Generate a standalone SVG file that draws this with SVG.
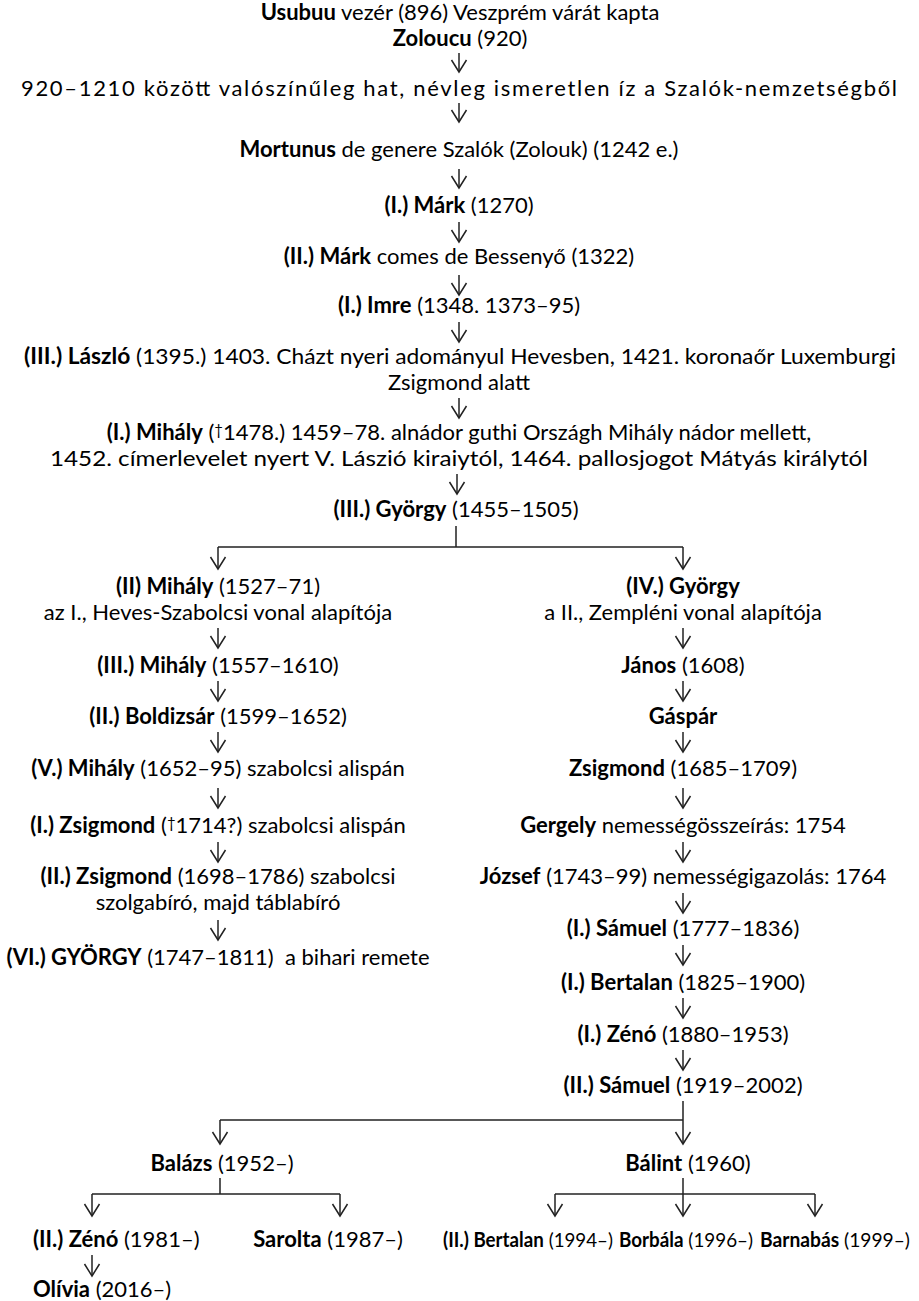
<svg xmlns="http://www.w3.org/2000/svg" width="919" height="1301" viewBox="0 0 919 1301">
<defs>
<style>
text{font-family:Lato,"Open Sans","Liberation Sans",sans-serif;font-size:22px;fill:#000;text-anchor:middle}
.b{font-weight:bold}
.l{text-anchor:start}
.dg{font-size:15px}
.sm{font-size:20px}
#connectors path,#connectors line{stroke:#222;stroke-width:1.5;fill:none}
</style>
<marker id="ah" markerUnits="userSpaceOnUse" markerWidth="24" markerHeight="24" viewBox="-12 -12 24 24" refX="0" refY="0" orient="auto" overflow="visible">
<path d="M-12,-7.5 L0,0 L-12,7.5" fill="none" stroke="#222" stroke-width="1.5"/>
</marker>
</defs>
<rect width="919" height="1301" fill="#fff"/>

<g id="connectors">
<line x1="459" y1="53" x2="459" y2="72" marker-end="url(#ah)"/>
<line x1="459" y1="103" x2="459" y2="122" marker-end="url(#ah)"/>
<line x1="459" y1="169" x2="459" y2="188" marker-end="url(#ah)"/>
<line x1="459" y1="222" x2="459" y2="242" marker-end="url(#ah)"/>
<line x1="459" y1="275" x2="459" y2="295" marker-end="url(#ah)"/>
<line x1="459" y1="322" x2="459" y2="342" marker-end="url(#ah)"/>
<line x1="459" y1="398" x2="459" y2="418" marker-end="url(#ah)"/>
<line x1="457" y1="474" x2="457" y2="494" marker-end="url(#ah)"/>
<path d="M456,526 V547 M218,547 H683"/>
<line x1="218" y1="547" x2="218" y2="569" marker-end="url(#ah)"/>
<line x1="683" y1="547" x2="683" y2="569" marker-end="url(#ah)"/>
<line x1="218" y1="628" x2="218" y2="648" marker-end="url(#ah)"/>
<line x1="218" y1="681" x2="218" y2="701" marker-end="url(#ah)"/>
<line x1="218" y1="732" x2="218" y2="752" marker-end="url(#ah)"/>
<line x1="218" y1="788" x2="218" y2="808" marker-end="url(#ah)"/>
<line x1="218" y1="842" x2="218" y2="862" marker-end="url(#ah)"/>
<line x1="218" y1="920" x2="218" y2="940" marker-end="url(#ah)"/>
<line x1="683" y1="628" x2="683" y2="648" marker-end="url(#ah)"/>
<line x1="683" y1="681" x2="683" y2="701" marker-end="url(#ah)"/>
<line x1="683" y1="732" x2="683" y2="752" marker-end="url(#ah)"/>
<line x1="683" y1="788" x2="683" y2="808" marker-end="url(#ah)"/>
<line x1="683" y1="842" x2="683" y2="862" marker-end="url(#ah)"/>
<line x1="683" y1="893" x2="683" y2="913" marker-end="url(#ah)"/>
<line x1="683" y1="945" x2="683" y2="965" marker-end="url(#ah)"/>
<line x1="683" y1="998" x2="683" y2="1018" marker-end="url(#ah)"/>
<line x1="683" y1="1050" x2="683" y2="1070" marker-end="url(#ah)"/>
<path d="M683,1101 V1120 M220,1120 H683"/>
<line x1="220" y1="1120" x2="220" y2="1144" marker-end="url(#ah)"/>
<line x1="683" y1="1120" x2="683" y2="1144" marker-end="url(#ah)"/>
<path d="M220,1178 V1194 M92,1194 H340"/>
<line x1="92" y1="1194" x2="92" y2="1216" marker-end="url(#ah)"/>
<line x1="340" y1="1194" x2="340" y2="1216" marker-end="url(#ah)"/>
<path d="M555,1194 H815"/>
<line x1="683" y1="1178" x2="683" y2="1216" marker-end="url(#ah)"/>
<line x1="555" y1="1194" x2="555" y2="1216" marker-end="url(#ah)"/>
<line x1="815" y1="1194" x2="815" y2="1216" marker-end="url(#ah)"/>
<line x1="92" y1="1255" x2="92" y2="1276" marker-end="url(#ah)"/>
</g>

<g id="n-usubuu"><text x="460" y="20"><tspan class="b">Usubuu</tspan> vezér (896) Veszprém várát kapta</text></g>
<g id="n-zoloucu"><text x="460" y="46"><tspan class="b">Zoloucu</tspan> (920)</text></g>
<g id="n-920"><text x="459" y="96" textLength="876" lengthAdjust="spacing">920–1210 között valószínűleg hat, névleg ismeretlen íz a Szalók-nemzetségből</text></g>
<g id="n-mortunus"><text x="459" y="157"><tspan class="b">Mortunus</tspan> de genere Szalók (Zolouk) (1242 e.)</text></g>
<g id="n-mark1"><text x="459" y="213"><tspan class="b">(I.) Márk</tspan> (1270)</text></g>
<g id="n-mark2"><text x="459" y="264"><tspan class="b">(II.) Márk</tspan> comes de Bessenyő (1322)</text></g>
<g id="n-imre"><text x="459" y="313"><tspan class="b">(I.) Imre</tspan> (1348. 1373–95)</text></g>
<g id="n-laszlo"><text x="460" y="364" textLength="872" lengthAdjust="spacingAndGlyphs"><tspan class="b">(III.) László</tspan> (1395.) 1403. Cházt nyeri adományul Hevesben, 1421. koronaőr Luxemburgi</text><text x="459" y="390">Zsigmond alatt</text></g>
<g id="n-mihaly1"><text x="459" y="440"><tspan class="b">(I.) Mihály</tspan> (<tspan class="dg" baseline-shift="5">†</tspan>1478.) 1459–78. alnádor guthi Országh Mihály nádor mellett,</text><text x="459" y="466" textLength="818" lengthAdjust="spacingAndGlyphs">1452. címerlevelet nyert V. Lászió kiraiytól, 1464. pallosjogot Mátyás királytól</text></g>
<g id="n-gyorgy3"><text x="456" y="517"><tspan class="b">(III.) György</tspan> (1455–1505)</text></g>

<g id="n-mihaly2"><text x="218" y="594"><tspan class="b">(II) Mihály</tspan> (1527–71)</text><text x="218" y="620">az I., Heves-Szabolcsi vonal alapítója</text></g>
<g id="n-mihaly3"><text x="218" y="673"><tspan class="b">(III.) Mihály</tspan> (1557–1610)</text></g>
<g id="n-boldizsar"><text x="218" y="724"><tspan class="b">(II.) Boldizsár</tspan> (1599–1652)</text></g>
<g id="n-mihaly5"><text x="218" y="776"><tspan class="b">(V.) Mihály</tspan> (1652–95) szabolcsi alispán</text></g>
<g id="n-zsigmond1"><text x="218" y="833"><tspan class="b">(I.) Zsigmond</tspan> (<tspan class="dg" baseline-shift="5">†</tspan>1714?) szabolcsi alispán</text></g>
<g id="n-zsigmond2"><text x="218" y="884"><tspan class="b">(II.) Zsigmond</tspan> (1698–1786) szabolcsi</text><text x="218" y="910">szolgabíró, majd táblabíró</text></g>
<g id="n-gyorgy6"><text x="218" y="965"><tspan class="b">(VI.) GYÖRGY</tspan> (1747–1811)&#160; a bihari remete</text></g>

<g id="n-gyorgy4"><text x="683" y="594" class="b">(IV.) György</text><text x="683" y="620">a II., Zempléni vonal alapítója</text></g>
<g id="n-janos"><text x="683" y="673"><tspan class="b">János</tspan> (1608)</text></g>
<g id="n-gaspar"><text x="683" y="724" class="b">Gáspár</text></g>
<g id="n-zsigmond"><text x="683" y="776"><tspan class="b">Zsigmond</tspan> (1685–1709)</text></g>
<g id="n-gergely"><text x="683" y="833"><tspan class="b">Gergely</tspan> nemességösszeírás: 1754</text></g>
<g id="n-jozsef"><text x="683" y="884"><tspan class="b">József</tspan> (1743–99) nemességigazolás: 1764</text></g>
<g id="n-samuel1"><text x="683" y="936"><tspan class="b">(I.) Sámuel</tspan> (1777–1836)</text></g>
<g id="n-bertalan1"><text x="683" y="990"><tspan class="b">(I.) Bertalan</tspan> (1825–1900)</text></g>
<g id="n-zeno1"><text x="683" y="1042"><tspan class="b">(I.) Zénó</tspan> (1880–1953)</text></g>
<g id="n-samuel2"><text x="683" y="1093"><tspan class="b">(II.) Sámuel</tspan> (1919–2002)</text></g>

<g id="n-balazs"><text x="222" y="1171"><tspan class="b">Balázs</tspan> (1952–)</text></g>
<g id="n-balint"><text x="688" y="1171"><tspan class="b">Bálint</tspan> (1960)</text></g>
<g id="n-zeno2"><text x="33" y="1247" class="l"><tspan class="b">(II.) Zénó</tspan> (1981–)</text></g>
<g id="n-sarolta"><text x="328" y="1247"><tspan class="b">Sarolta</tspan> (1987–)</text></g>
<g id="n-bertalan2"><text x="443" y="1247" class="sm l" textLength="170" lengthAdjust="spacingAndGlyphs"><tspan class="b">(II.) Bertalan</tspan> (1994–)</text></g>
<g id="n-borbala"><text x="619" y="1247" class="sm l" textLength="134" lengthAdjust="spacingAndGlyphs"><tspan class="b">Borbála</tspan> (1996–)</text></g>
<g id="n-barnabas"><text x="760" y="1247" class="sm l" textLength="150" lengthAdjust="spacingAndGlyphs"><tspan class="b">Barnabás</tspan> (1999–)</text></g>
<g id="n-olivia"><text x="33" y="1297" class="l"><tspan class="b">Olívia</tspan> (2016–)</text></g>
</svg>
